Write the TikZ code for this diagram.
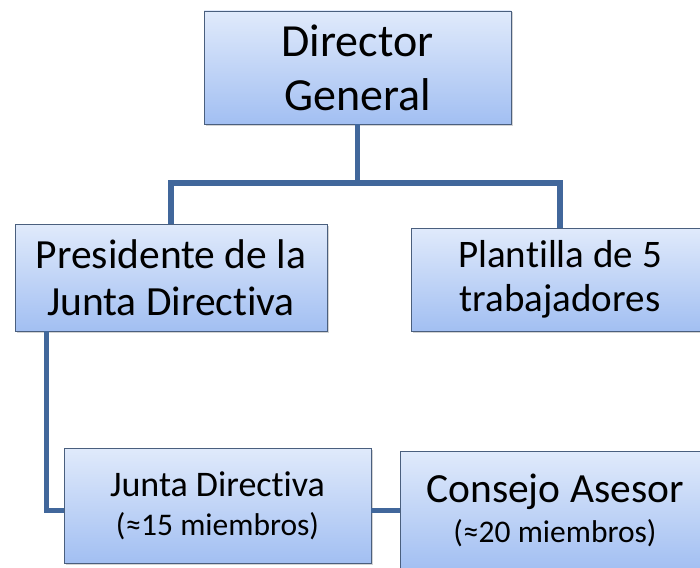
\documentclass[tikz,border=0pt]{standalone}
\usepackage{fontspec}
\setmainfont{Carlito}[RawFeature={-liga}]
\usetikzlibrary{shadows}
\definecolor{boxtop}{HTML}{E0EAFB}
\definecolor{boxbot}{HTML}{A2BFF2}
\definecolor{boxline}{HTML}{4A5F7E}
\definecolor{linkblue}{HTML}{41679B}
\begin{document}
\begin{tikzpicture}[x=1pt, y=-1pt,
  main/.style = {draw=boxline, line width=0.8pt, top color=boxtop, bottom color=boxbot, align=center, inner sep=0pt, drop shadow={shadow xshift=1.5pt, shadow yshift=-1.5pt, opacity=0.35}},
  link/.style = {draw=linkblue, line width=5.5pt}]
  \useasboundingbox (0,0) rectangle (700,567);
  \node[main, minimum width=307pt, minimum height=113pt, font=\fontsize{46}{54}\selectfont] (1) at (357.5,67.5) {Director\\General};
  \node[main, minimum width=312pt, minimum height=107pt, font=\fontsize{41.5}{47}\selectfont] (2) at (171,277.5) {Presidente de la\\Junta Directiva};
  \node[main, minimum width=298pt, minimum height=103pt, font=\fontsize{39}{44}\selectfont] (3) at (560,279.5) {Plantilla de 5\\trabajadores};
  \node[main, minimum width=307pt, minimum height=115pt, font=\fontsize{31.5}{34}\selectfont] (4) at (217.5,505.5) {{\fontsize{36}{40}\selectfont Junta Directiva}\\[5pt](≈15 miembros)};
  \node[main, minimum width=310pt, minimum height=119pt, font=\fontsize{31.5}{36}\selectfont] (5) at (555,510.5) {{\fontsize{41.5}{46}\selectfont Consejo Asesor}\\[4pt](≈20 miembros)};
  \coordinate (j) at (357.5,183);
  \draw[link] (1) -- (j);
  \draw[link] (2.north) |- (j) -| (3.north);
  \draw[link] ([xshift=32pt]2.south west) |- (5.west -| 4.west);
  \draw[link] (4.east |- 5.west) -- (5.west);
\end{tikzpicture}
\end{document}
